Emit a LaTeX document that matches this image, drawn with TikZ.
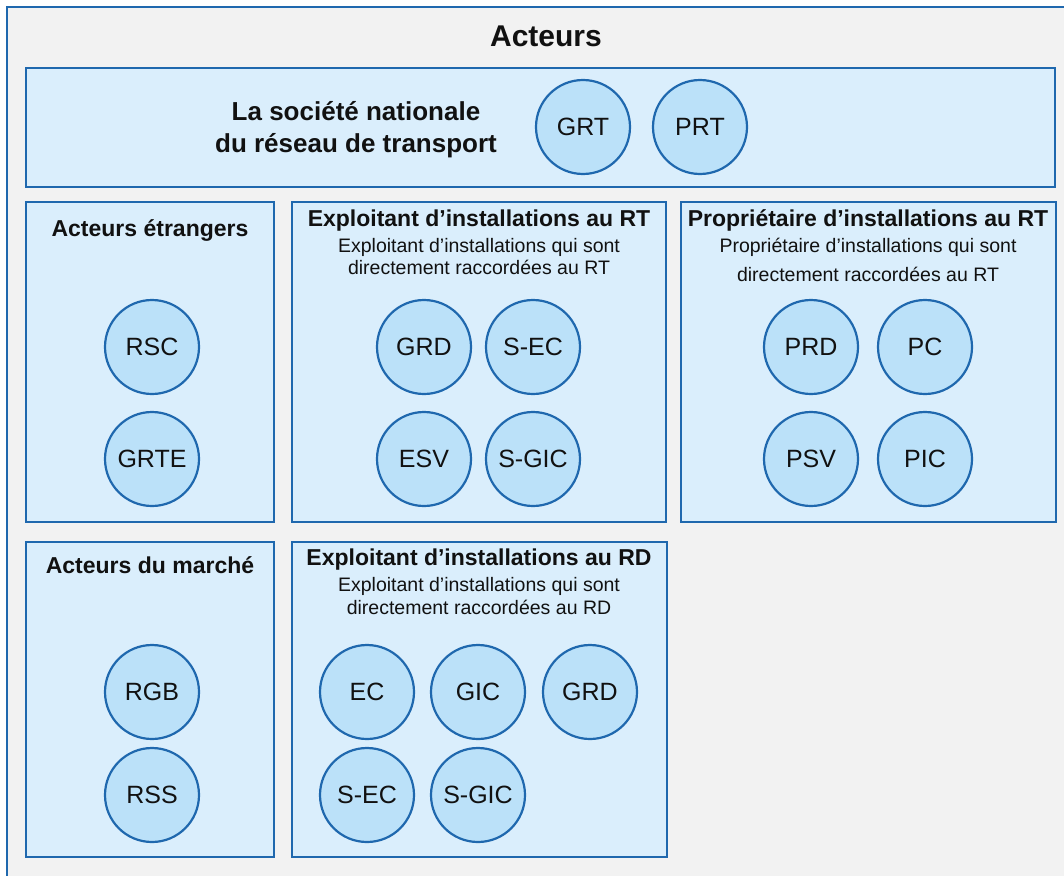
\documentclass[tikz,border=0pt]{standalone}
\usepackage{fontspec}
\setmainfont{Liberation Sans}
\definecolor{frameblue}{HTML}{1F68AE}
\definecolor{boxfill}{HTML}{DAEEFC}
\definecolor{discfill}{HTML}{BBE1F9}
\definecolor{bggray}{HTML}{F2F2F2}
\definecolor{ink}{HTML}{111111}

\begin{document}
\begin{tikzpicture}[x=1pt,y=-1pt,
  group/.style={draw=frameblue, line width=2pt, fill=boxfill},
  actor/.style={circle, draw=frameblue, line width=2.2pt, fill=discfill,
    minimum size=94pt, inner sep=0pt, text=ink, font=\fontsize{25}{30}\selectfont},
  gtitle/.style={anchor=base, inner sep=0pt, text=ink, font=\bfseries\fontsize{23}{27}\selectfont},
  gsub/.style={anchor=base, inner sep=0pt, text=ink, font=\fontsize{19.5}{24}\selectfont}]
\useasboundingbox (0,0) rectangle (1064,875);
\fill[white] (0,0) rectangle (1064,875);
\begin{scope}
  \clip (0,0) rectangle (1064,875);
  \draw[line width=2pt, draw=frameblue, fill=bggray] (7,7) rectangle (1090,900);
\end{scope}

% main title
\node[anchor=base, inner sep=0pt, text=ink, font=\bfseries\fontsize{30}{36}\selectfont] (title) at (546,46) {Acteurs};

% transmission system operator
\draw[group] (26,68) rectangle (1055,187);
\node[anchor=base, inner sep=0pt, text=ink, font=\bfseries\fontsize{26}{32}\selectfont] (tsoA) at (356,120) {La société nationale};
\node[anchor=base, inner sep=0pt, text=ink, font=\bfseries\fontsize{26}{32}\selectfont] (tsoB) at (356,152) {du réseau de transport};
\node[actor] (grt) at (583,127) {GRT};
\node[actor] (prt) at (700,127) {PRT};

% foreign actors
\draw[group] (26,202) rectangle (274,522);
\node[gtitle] (foreign) at (150,236) {Acteurs étrangers};
\node[actor] (rsc) at (152,347) {RSC};
\node[actor] (grte) at (152,459) {GRTE};

% operators connected to the transmission network
\draw[group] (292,202) rectangle (666,522);
\node[gtitle] (oprt) at (479,226) {Exploitant d’installations au RT};
\node[gsub] (oprtA) at (479,252) {Exploitant d’installations qui sont};
\node[gsub] (oprtB) at (479,274) {directement raccordées au RT};
\node[actor] (grd1) at (424,347) {GRD};
\node[actor] (sec1) at (533,347) {S-EC};
\node[actor] (esv) at (424,459) {ESV};
\node[actor] (sgic1) at (533,459) {S-GIC};

% owners of installations on the transmission network
\draw[group] (681,202) rectangle (1056,522);
\node[gtitle] (owrt) at (868,226) {Propriétaire d’installations au RT};
\node[gsub] (owrtA) at (868,252) {Propriétaire d’installations qui sont};
\node[gsub] (owrtB) at (868,281) {directement raccordées au RT};
\node[actor] (prd) at (811,347) {PRD};
\node[actor] (pc) at (925,347) {PC};
\node[actor] (psv) at (811,459) {PSV};
\node[actor] (pic) at (925,459) {PIC};

% market actors
\draw[group] (26,542) rectangle (274,857);
\node[gtitle] (market) at (150,573) {Acteurs du marché};
\node[actor] (rgb) at (152,692) {RGB};
\node[actor] (rss) at (152,795) {RSS};

% operators connected to the distribution network
\draw[group] (292,542) rectangle (667,857);
\node[gtitle] (oprd) at (479,565) {Exploitant d’installations au RD};
\node[gsub] (oprdA) at (479,591) {Exploitant d’installations qui sont};
\node[gsub] (oprdB) at (479,614) {directement raccordées au RD};
\node[actor] (ec) at (367,692) {EC};
\node[actor] (gic) at (478,692) {GIC};
\node[actor] (grd2) at (590,692) {GRD};
\node[actor] (sec2) at (367,795) {S-EC};
\node[actor] (sgic2) at (478,795) {S-GIC};
\end{tikzpicture}
\end{document}
